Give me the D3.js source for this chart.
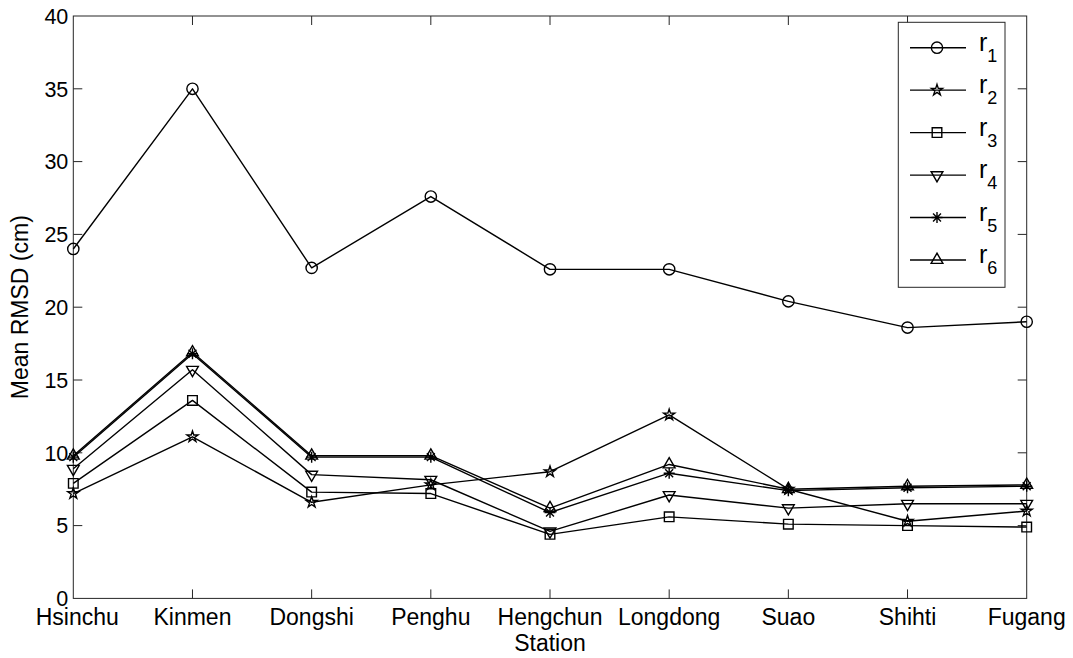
<!DOCTYPE html>
<html>
<head>
<meta charset="utf-8">
<script src="https://cdn.jsdelivr.net/npm/d3@7"></script>
<style>
  html, body { margin: 0; padding: 0; background: #fff; }
  svg { display: block; font-family: "Liberation Sans", Arial, Helvetica, sans-serif; }
</style>
</head>
<body>
<svg id="chart" width="1073" height="658"></svg>
<script>
// Mean RMSD per tide-gauge station for six model runs
const stations = ["Hsinchu", "Kinmen", "Dongshi", "Penghu", "Hengchun", "Longdong", "Suao", "Shihti", "Fugang"];
const r1 = [24.0, 35.0, 22.7, 27.6, 22.6, 22.6, 20.4, 18.6, 19.0];
const r2 = [7.2, 11.1, 6.6, 7.8, 8.7, 12.6, 7.5, 5.3, 6.0];
const r3 = [7.9, 13.6, 7.3, 7.2, 4.4, 5.6, 5.1, 5.0, 4.9];
const r4 = [8.9, 15.7, 8.5, 8.15, 4.6, 7.1, 6.2, 6.5, 6.5];
const r5 = [9.7, 16.8, 9.7, 9.7, 5.9, 8.6, 7.4, 7.6, 7.7];
const r6 = [9.8, 16.9, 9.8, 9.8, 6.2, 9.2, 7.5, 7.7, 7.8];
const seriesNames = ["1", "2", "3", "4", "5", "6"];
const yTicks = [0, 5, 10, 15, 20, 25, 30, 35, 40];

const series = [r1, r2, r3, r4, r5, r6];

const svg = d3.select("#chart");
const plot = { left: 73.3, right: 1026.7, top: 16, bottom: 598.4 };

const x = d3.scalePoint().domain(stations).range([plot.left, plot.right]);
const y = d3.scaleLinear().domain([0, 40]).range([plot.bottom, plot.top]);

const axisColor = "#262626";
const tickLen = 9;
const strokeW = 1.4;

// marker generators: circle, pentagram, square, down-triangle, asterisk, up-triangle
const asteriskPath = (s) => {
  const d = s * 0.72;
  return `M${-s},0L${s},0M0,${-s}L0,${s}M${-d},${-d}L${d},${d}M${-d},${d}L${d},${-d}`;
};
const markers = [
  () => d3.symbol(d3.symbolCircle, 100)(),
  () => d3.symbol(d3.symbolStar, 38)(),
  () => d3.symbol(d3.symbolSquare, 92)(),
  () => d3.symbol(d3.symbolTriangle, 60)(),
  () => asteriskPath(5.5),
  () => d3.symbol(d3.symbolTriangle, 60)()
];
const markerRotate = [0, 0, 0, 180, 0, 0];

// frame with inward ticks on all four sides
const frame = svg.append("g");
frame.append("rect")
  .attr("x", plot.left).attr("y", plot.top)
  .attr("width", plot.right - plot.left).attr("height", plot.bottom - plot.top)
  .attr("fill", "none").attr("stroke", axisColor).attr("stroke-width", 1);

const innerY = yTicks.filter(v => v > 0 && v < 40);
const innerX = stations.slice(1, -1);

frame.selectAll(".ytl").data(innerY).join("line")
  .attr("x1", plot.left).attr("x2", plot.left + tickLen)
  .attr("y1", d => y(d)).attr("y2", d => y(d))
  .attr("stroke", axisColor);
frame.selectAll(".ytr").data(innerY).join("line")
  .attr("x1", plot.right).attr("x2", plot.right - tickLen)
  .attr("y1", d => y(d)).attr("y2", d => y(d))
  .attr("stroke", axisColor);
frame.selectAll(".xtb").data(innerX).join("line")
  .attr("x1", d => x(d)).attr("x2", d => x(d))
  .attr("y1", plot.bottom).attr("y2", plot.bottom - tickLen)
  .attr("stroke", axisColor);
frame.selectAll(".xtt").data(innerX).join("line")
  .attr("x1", d => x(d)).attr("x2", d => x(d))
  .attr("y1", plot.top).attr("y2", plot.top + tickLen)
  .attr("stroke", axisColor);

// tick labels
svg.append("g").selectAll("text").data(yTicks).join("text")
  .attr("x", plot.left - 5).attr("y", d => y(d))
  .attr("dy", "0.36em")
  .attr("text-anchor", "end")
  .attr("font-size", 21.5)
  .attr("fill", "#000")
  .text(d => d);

svg.append("g").selectAll("text").data(stations).join("text")
  .attr("x", d => x(d)).attr("y", 625)
  .attr("dx", (d, i) => i === 0 ? 4 : 0)
  .attr("text-anchor", "middle")
  .attr("font-size", 23)
  .attr("fill", "#000")
  .text(d => d);

// axis titles
svg.append("text")
  .attr("x", (plot.left + plot.right) / 2).attr("y", 651)
  .attr("text-anchor", "middle").attr("font-size", 23).attr("fill", "#000")
  .text("Station");
svg.append("text")
  .attr("transform", `translate(28,${(plot.top + plot.bottom) / 2}) rotate(-90)`)
  .attr("text-anchor", "middle").attr("font-size", 23).attr("fill", "#000")
  .text("Mean RMSD (cm)");

// series lines and markers
const line = d3.line().x((d, i) => x(stations[i])).y(d => y(d));
series.forEach((vals, k) => {
  const g = svg.append("g");
  g.append("path")
    .attr("d", line(vals))
    .attr("fill", "none").attr("stroke", "#000").attr("stroke-width", strokeW)
    .attr("stroke-linejoin", "round");
  g.selectAll("path.m").data(vals).join("path")
    .attr("class", "m")
    .attr("d", markers[k]())
    .attr("transform", (d, i) => `translate(${x(stations[i])},${y(d)}) rotate(${markerRotate[k]})`)
    .attr("fill", "none").attr("stroke", "#000").attr("stroke-width", strokeW);
});

// legend
const legend = svg.append("g");
legend.append("rect")
  .attr("x", 898.3).attr("y", 22.3).attr("width", 106.7).attr("height", 265)
  .attr("fill", "#fff").attr("stroke", axisColor).attr("stroke-width", 1);
const legY = d3.scalePoint().domain(seriesNames).range([47.7, 260]);
seriesNames.forEach((name, k) => {
  const ly = legY(name);
  legend.append("line").attr("x1", 910).attr("x2", 966).attr("y1", ly).attr("y2", ly)
    .attr("stroke", "#000").attr("stroke-width", strokeW);
  legend.append("path").attr("d", markers[k]())
    .attr("transform", `translate(937,${ly}) rotate(${markerRotate[k]})`)
    .attr("fill", "none").attr("stroke", "#000").attr("stroke-width", strokeW);
  const t = legend.append("text").attr("x", 979).attr("y", ly + 3).attr("font-size", 25).attr("fill", "#000");
  t.append("tspan").text("r");
  t.append("tspan").attr("dy", 11).attr("font-size", 18).text(name);
});
</script>
</body>
</html>
